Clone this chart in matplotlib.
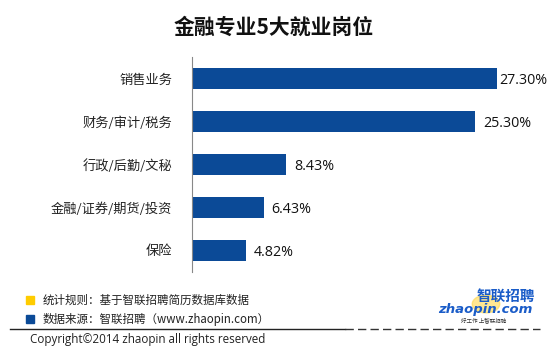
import matplotlib
matplotlib.use("Agg")
import matplotlib.pyplot as plt
from matplotlib.patches import Rectangle, Circle

plt.rcParams['font.family'] = ['Noto Sans CJK SC', 'DejaVu Sans']

# 数据
categories = ["销售业务", "财务/审计/税务", "行政/后勤/文秘", "金融/证券/期货/投资", "保险"]
values = [27.30, 25.30, 8.43, 6.43, 4.82]
title = "金融专业5大就业岗位"
note_rule = "统计规则：基于智联招聘简历数据库数据"
note_source = "数据来源：智联招聘（www.zhaopin.com）"
copyright_txt = "Copyright©2014 zhaopin all rights reserved"

BAR_COLOR = "#0b4a97"
W, H = 550, 355
XMAX = 30

fig = plt.figure(figsize=(W / 100, H / 100), dpi=100)
fig.patch.set_facecolor("white")

# 主图区域（按像素换算）
ax = fig.add_axes([191.7 / W, 1 - 272 / H, 336 / W, 215 / H])
ypos = list(range(len(categories)))
ax.barh(ypos, values, height=0.49, color=BAR_COLOR, edgecolor="none")
ax.set_xlim(0, XMAX)
ax.set_ylim(len(categories) - 0.5, -0.5)
ax.set_yticks(ypos)
ax.set_yticklabels(categories, fontsize=9.5, color="#222222")
ax.tick_params(axis="y", length=0, pad=14)
ax.set_xticks([])
for s in ["top", "right", "bottom"]:
    ax.spines[s].set_visible(False)
ax.spines["left"].set_color("#888888")
ax.spines["left"].set_linewidth(0.8)

# 数值标签，最长的那条贴近画布右边
for y, v in zip(ypos, values):
    off = 0.7 if v + 0.7 + 4.2 < XMAX + 1.5 else 0.2
    ax.text(v + off, y + 0.04, f"{v:.2f}%", va="center", ha="left",
            fontsize=10.3, color="#111111", family=["Open Sans", "DejaVu Sans"])

# 标题
fig.text(274 / W, 1 - 27 / H, title, ha="center", va="center",
         fontsize=15, fontweight="bold", color="#111111")

# 底部说明
fig.patches.append(Rectangle((26 / W, 1 - 304 / H), 8 / W, 8 / H,
                             transform=fig.transFigure, color="#ffcc00"))
fig.patches.append(Rectangle((26 / W, 1 - 323 / H), 8 / W, 8 / H,
                             transform=fig.transFigure, color="#0b4a97"))
fig.text(43 / W, 1 - 300 / H, note_rule, ha="left", va="center",
         fontsize=8.3, color="#222222")
fig.text(43 / W, 1 - 319 / H, note_source, ha="left", va="center",
         fontsize=8.3, color="#222222")

# 分隔线
fig.add_artist(plt.Line2D([10 / W, 345 / W], [1 - 329 / H, 1 - 329 / H],
                          transform=fig.transFigure, color="#222222", lw=1))
fig.add_artist(plt.Line2D([345 / W, 540 / W], [1 - 329 / H, 1 - 329 / H],
                          transform=fig.transFigure, color="#333333", lw=1,
                          linestyle=(0, (6, 3))))
fig.text(30 / W, 1 - 340 / H, copyright_txt, ha="left", va="center",
         fontsize=8.4, color="#222222", family=["Open Sans", "DejaVu Sans"])

# 右下角 logo
fig.add_artist(Circle((486 / W, 1 - 304 / H), 0.025,
                      transform=fig.transFigure, color="#ffd84a", alpha=0.6))
fig.text(506 / W, 1 - 296 / H, "智联招聘", ha="center", va="center",
         fontsize=10.5, fontweight="bold", style="italic", color="#1a5cc8")
fig.text(485 / W, 1 - 309 / H, "zhaopin.com", ha="center", va="center",
         fontsize=9.5, fontweight="bold", style="italic", color="#1a5cc8",
         family=["DejaVu Sans"])
fig.text(484 / W, 1 - 320 / H, "好工作 上智联招聘", ha="center", va="center",
         fontsize=4, color="#333333")

fig.savefig("out.png", dpi=100, facecolor="white")
